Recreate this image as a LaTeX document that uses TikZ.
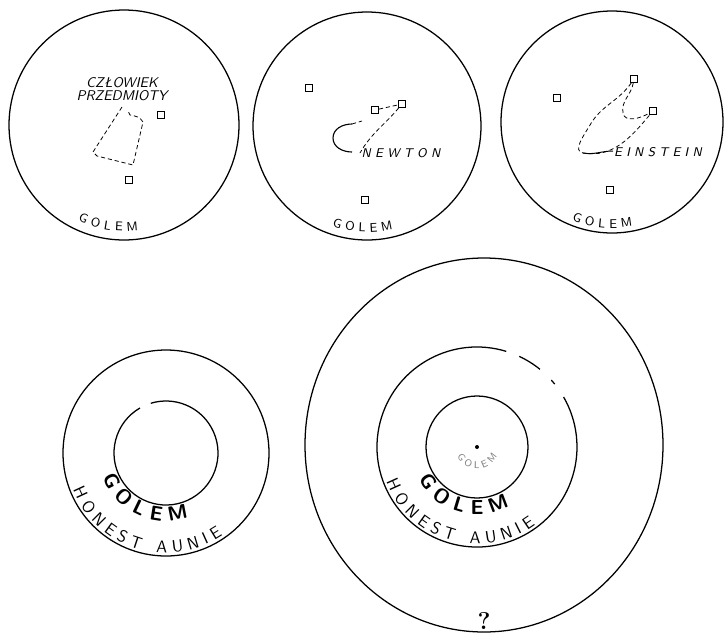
\documentclass[tikz,border=0pt]{standalone}
\usetikzlibrary{decorations.text,calc}

\tikzset{
  ring/.style={line width=0.9pt},
  sqbox/.style={draw, line width=0.8pt, minimum size=0.17cm, inner sep=0pt},
  track/.style={line width=0.55pt, densely dashed},
  lettering/.style={font=\sffamily\slshape\small, inner sep=1pt},
  curved/.style={decorate, decoration={text along path, text align=center, text={#1}}},
}

\begin{document}
\begin{tikzpicture}[x=0.025cm,y=0.025cm]
\useasboundingbox (0,0) rectangle (724,-639);

% top row of plates
\coordinate (cA) at (124,-125);
\coordinate (cB) at (367,-126);
\coordinate (cC) at (612,-122);
\draw[ring] (cA) circle[radius=115];
\draw[ring] (cB) circle[radius=114];
\draw[ring] (cC) circle[radius=111];

% plate 1
\node[lettering, align=center, font=\sffamily\slshape\normalsize, inner sep=0pt] (txtA) at (122,-89)
  {CZŁOWIEK\\[-3pt]PRZEDMIOTY};
\node[sqbox] (sqA1) at (161,-115) {};
\node[sqbox] (sqA2) at (129,-180) {};
\draw[track] (122,-107) -- (93,-152) -- (97,-156) -- (133,-165) -- (143,-122)
  to[out=120,in=-10] (130,-115) -- (128,-111);
\path[curved={|\sffamily\small|G O L E M}] (cA) ++(238:106) arc[start angle=238, end angle=284, radius=106];

% plate 2
\node[sqbox] (sqB1) at (309,-88) {};
\node[sqbox] (sqB2) at (375,-110) {};
\node[sqbox] (sqB3) at (402,-104) {};
\node[sqbox] (sqB4) at (365,-200) {};
\node[lettering] (txtB) at (401,-153) {N E W T O N};
\draw[track] (sqB2) -- (sqB3);
\draw[track] (sqB3) to[out=-130,in=60] (txtB.west);
\draw[line width=0.8pt] (352,-124) to[out=180,in=90] (333,-138) to[out=-90,in=180] (352,-152);
\draw[track] (352,-124) -- (362,-121);
\path[curved={|\sffamily\small|G O L E M}] (cB) ++(247:106) arc[start angle=247, end angle=288, radius=106];

% plate 3
\node[sqbox] (sqC1) at (557,-98) {};
\node[sqbox] (sqC2) at (634,-79) {};
\node[sqbox] (sqC3) at (653,-111) {};
\node[sqbox] (sqC4) at (610,-190) {};
\node[lettering] (txtC) at (658,-152) {E I N S T E I N};
\draw[track] (sqC2) to[out=-125,in=60] (590,-125) to[out=-120,in=170] (583,-153)
  to[out=-10,in=-130] (sqC3);
\draw[line width=0.7pt] (583,-153) to[out=-10,in=180] (613,-151);
\draw[track] (sqC2) to[out=-100,in=100] (623,-113) to[out=-80,in=-150] (sqC3);
\path[curved={|\sffamily\small|G O L E M}] (cC) ++(245:106) arc[start angle=245, end angle=284, radius=106];

% small target
\coordinate (cD) at (166,-453);
\draw[ring] (cD) circle[radius=103];
\draw[ring] (cD) ++(120:52) arc[start angle=120, end angle=467, radius=52];
\path[curved={|\sffamily\bfseries\Large|G O L E M}] (cD) ++(200:68) arc[start angle=200, end angle=290, radius=68];
\path[curved={|\sffamily\large|H O N E S T \ \ A U N I E}] (cD) ++(200:100) arc[start angle=200, end angle=306, radius=100];

% large target
\coordinate (cE) at (477,-447);
\draw[ring] (484,-445) ellipse[x radius=179, y radius=187];
\draw[ring] (cE) ++(73:100) arc[start angle=73, end angle=390, radius=100];
\draw[ring] (cE) ++(51:100) arc[start angle=51, end angle=65, radius=100];
\draw[ring] (cE) ++(39:100) arc[start angle=39, end angle=42, radius=100];
\draw[ring] (cE) circle[radius=51];
\fill (cE) circle[radius=2];
\path[curved={|\sffamily\scriptsize\color{gray}|G O L E M}] (cE) ++(170:22) arc[start angle=170, end angle=370, radius=22];
\path[curved={|\sffamily\bfseries\Large|G O L E M}] (cE) ++(210:67) arc[start angle=210, end angle=298, radius=67];
\path[curved={|\sffamily\large|H O N E S T \ \ A U N I E}] (cE) ++(200:97) arc[start angle=200, end angle=308, radius=97];
\node[font=\LARGE\bfseries] (mark) at (484,-621) {?};
\end{tikzpicture}
\end{document}
